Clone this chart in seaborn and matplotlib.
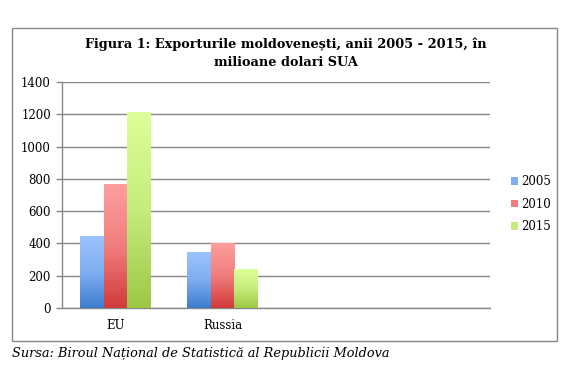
import numpy as np
import pandas as pd
import matplotlib
matplotlib.use("Agg")
import matplotlib.pyplot as plt
from matplotlib.colors import LinearSegmentedColormap
from matplotlib.patches import Rectangle
import seaborn as sns

# ---- data ----
regions = ["EU", "Russia"]
years = ["2005", "2010", "2015"]
values_2005 = [445, 347]
values_2010 = [768, 400]
values_2015 = [1215, 240]
yticks = [0, 200, 400, 600, 800, 1000, 1200, 1400]
title = "Figura 1: Exporturile moldovenești, anii 2005 - 2015, în\nmilioane dolari SUA"
source = "Sursa: Biroul Național de Statistică al Republicii Moldova"

df = pd.DataFrame({
    "region": regions * 3,
    "year": [y for y in years for _ in regions],
    "value": values_2005 + values_2010 + values_2015,
})

light = {"2005": "#9DC3FF", "2010": "#FF9E9E", "2015": "#DDFF99"}
dark = {"2005": "#3C7CCF", "2010": "#D23A3A", "2015": "#9CC845"}
mid = {"2005": "#7FAEF0", "2010": "#F07E7E", "2015": "#C5EC7C"}

sns.set_theme(style="white")
plt.rcParams["font.family"] = ["DejaVu Serif"]
plt.rcParams["text.color"] = "black"

fig = plt.figure(figsize=(5.76, 3.65), dpi=100)
ax = fig.add_axes([62 / 576, 1 - 308 / 365, (490 - 62) / 576, (308 - 82) / 365])

sns.barplot(data=df, x="region", y="value", hue="year", order=regions,
            hue_order=years, palette=mid, width=0.67, gap=0, ax=ax,
            legend=False, saturation=1, linewidth=0)

# gradient fill on each bar
for container, yr in zip(ax.containers, years):
    cmap = LinearSegmentedColormap.from_list(
        yr, [(0, dark[yr]), (0.5, mid[yr]), (1, light[yr])])
    for patch in container:
        x0, y0 = patch.get_x(), patch.get_y()
        w, h = patch.get_width(), patch.get_height()
        patch.set_facecolor("none")
        grad = np.linspace(1, 0, 256).reshape(-1, 1)
        im = ax.imshow(grad, cmap=cmap, aspect="auto",
                       extent=[x0, x0 + w, y0, y0 + h], zorder=3,
                       vmin=0, vmax=1)
        im.set_clip_path(patch)
ax.set_xlim(-0.5, 3.5)
ax.set_ylim(0, 1400)

ax.set_yticks(yticks)
ax.set_yticklabels([str(v) for v in yticks])
ax.set_xticks([0, 1])
ax.set_xticklabels(regions)
ax.set_xticks([-0.5, 0.5, 1.5, 2.5, 3.5], minor=True)
ax.tick_params(axis="x", which="major", length=0, pad=8, labelsize=8.5, colors="black")
ax.tick_params(axis="x", which="minor", length=4, width=1, color="#888888", direction="out")
ax.tick_params(axis="y", length=4, width=1, color="#888888", direction="out",
               labelsize=8.5, labelcolor="black", left=True, pad=4)
ax.grid(axis="y", color="#888888", linewidth=1)
ax.set_axisbelow(True)
for s in ["top", "right"]:
    ax.spines[s].set_visible(False)
for s in ["left", "bottom"]:
    ax.spines[s].set_color("#888888")
    ax.spines[s].set_linewidth(1)
ax.set_xlabel("")
ax.set_ylabel("")

# legend
handles = [Rectangle((0, 0), 1, 1, facecolor=mid[y], edgecolor="none") for y in years]
fig.legend(handles, years, loc="center left", bbox_to_anchor=(500 / 576, 1 - 204 / 365),
           frameon=False, fontsize=8.5, handlelength=0.6, handleheight=0.6,
           handletextpad=0.3, labelspacing=0.8, labelcolor="black")

# outer frame
fig.patches.append(Rectangle((12 / 576, 1 - 341 / 365), (557 - 12) / 576, (341 - 28) / 365,
                             transform=fig.transFigure, fill=False,
                             edgecolor="#888888", linewidth=1))

fig.text(286 / 576, 1 - 53 / 365, title, ha="center", va="center", color="black",
         fontsize=9.3, fontweight="bold", linespacing=1.45)
fig.text(12 / 576, 1 - 353 / 365, source, ha="left", va="center", color="black",
         fontsize=9.3, style="italic")

fig.savefig("out.png", dpi=100)
